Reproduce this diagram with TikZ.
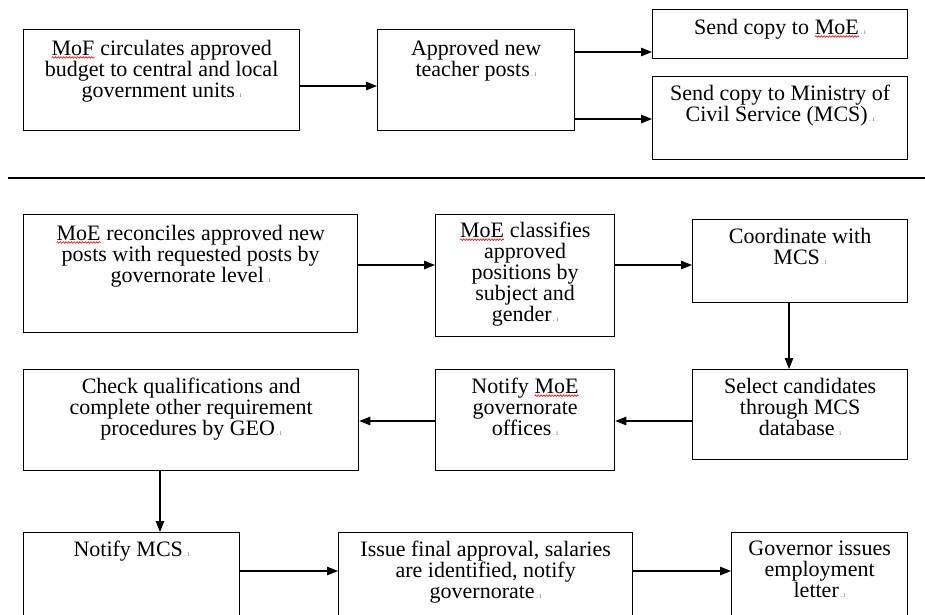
\documentclass[tikz,border=0pt]{standalone}
\usepackage{fontspec}
\setmainfont{Liberation Serif}
\usetikzlibrary{arrows.meta,calc,decorations.pathmorphing}
\newcommand\sperr[1]{\tikz[baseline=(spw.base)]{\node[inner sep=0pt,outer sep=0pt] (spw) {#1};\draw[red,line width=0.6pt,decorate,decoration={snake,amplitude=0.8pt,segment length=2.8pt}] ([yshift=-2pt]spw.base west) -- ([yshift=-2pt]spw.base east);}}
\newcommand\pmk{{\color{gray}\fontsize{8}{8}\selectfont\,.\,ı}}
\tikzset{
  box/.style={draw=black, line width=1.3pt, inner sep=0pt, anchor=north west},
  txt/.style={anchor=north, inner sep=0pt, align=center, font=\fontsize{22}{21}\selectfont},
  conn/.style={line width=1.2pt, -{Triangle[length=11pt,width=8.5pt]}},
}
\begin{document}
\begin{tikzpicture}[x=1pt,y=-1pt]
\useasboundingbox (0,0) rectangle (925,614);
\clip (0,0) rectangle (925,614);
% row 0
\node[box, minimum width=276, minimum height=101] (b1) at (23,29) {};
\node[box, minimum width=197, minimum height=101] (b2) at (377,29) {};
\node[box, minimum width=255, minimum height=49] (b3) at (652,9) {};
\node[box, minimum width=255, minimum height=83] (b4) at (652,76) {};
\node[txt] (t1) at ([yshift=-11]b1.north) {\sperr{MoF} circulates approved\\budget to central and local\\government units\pmk};
\node[txt] (t2) at ([yshift=-11]b2.north) {Approved new\\teacher posts\pmk};
\node[txt] (t3) at ([yshift=-10]b3.north) {Send copy to \sperr{MoE}\pmk};
\node[txt] (t4) at ([yshift=-9]b4.north) {Send copy to Ministry of\\Civil Service (MCS)\pmk};
\draw[conn] (b1.east |- 0,86) -- (b2.west |- 0,86);
\draw[conn] (b2.east |- 0,52) -- (b3.west |- 0,52);
\draw[conn] (b2.east |- 0,119) -- (b4.west |- 0,119);
% separator
\coordinate (sl) at (8,178);
\coordinate (sr) at (925,178);
\draw[line width=1.3pt] (sl) -- (sr);
% row 1
\node[box, minimum width=334, minimum height=118] (b5) at (23,214) {};
\node[box, minimum width=179, minimum height=122] (b6) at (435,214) {};
\node[box, minimum width=215, minimum height=83] (b7) at (692,219) {};
\node[txt] (t5) at ([yshift=-11]b5.north) {\sperr{MoE} reconciles approved new\\posts with requested posts by\\governorate level\pmk};
\node[txt] (t6) at ([yshift=-8]b6.north) {\sperr{MoE} classifies\\approved\\positions by\\subject and\\gender\pmk};
\node[txt] (t7) at ([yshift=-9]b7.north) {Coordinate with\\MCS\pmk};
\draw[conn] (b5.east |- 0,265) -- (b6.west |- 0,265);
\draw[conn] (b6.east |- 0,265) -- (b7.west |- 0,265);
% row 2
\node[box, minimum width=215, minimum height=90] (b8) at (692,369) {};
\node[box, minimum width=179, minimum height=101] (b9) at (435,369) {};
\node[box, minimum width=335, minimum height=101] (b10) at (23,369) {};
\node[txt] (t8) at ([yshift=-9]b8.north) {Select candidates\\through MCS\\database\pmk};
\node[txt] (t9) at ([yshift=-9]b9.north) {Notify \sperr{MoE}\\governorate\\offices\pmk};
\node[txt] (t10) at ([yshift=-9]b10.north) {Check qualifications and\\complete other requirement\\procedures by GEO\pmk};
\draw[conn] (b7.south -| 789,0) -- (b8.north -| 789,0);
\draw[conn] (b8.west |- 0,421) -- (b9.east |- 0,421);
\draw[conn] (b9.west |- 0,421) -- (b10.east |- 0,421);
% row 3
\node[box, minimum width=216, minimum height=100] (b11) at (23,532) {};
\node[box, minimum width=294, minimum height=100] (b12) at (338,532) {};
\node[box, minimum width=176, minimum height=100] (b13) at (731,532) {};
\node[txt] (t11) at ([yshift=-9]b11.north) {Notify MCS\pmk};
\node[txt] (t12) at ([yshift=-9]b12.north) {Issue final approval, salaries\\are identified, notify\\governorate\pmk};
\node[txt] (t13) at ([yshift=-9]b13.north) {Governor issues\\employment\\letter\pmk};
\draw[conn] (b10.south -| 160,0) -- (b11.north -| 160,0);
\draw[conn] (b11.east |- 0,571) -- (b12.west |- 0,571);
\draw[conn] (b12.east |- 0,571) -- (b13.west |- 0,571);
\end{tikzpicture}
\end{document}
